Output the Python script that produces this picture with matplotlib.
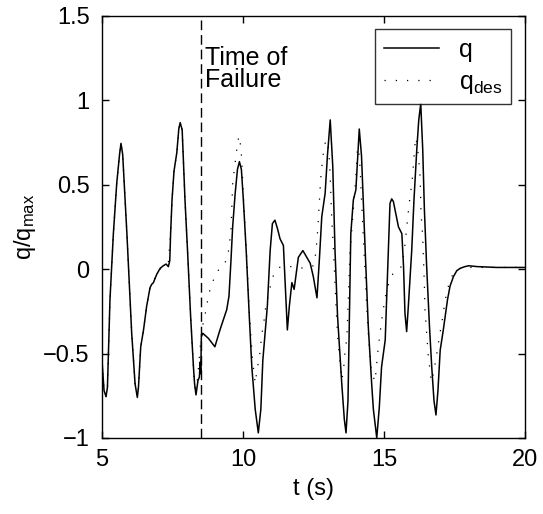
#!/usr/bin/env python3
# -*- coding: utf-8 -*-
"""
Joint position q / q_max vs time, with the time of failure marked.
"""

import matplotlib
matplotlib.use("Agg")
import matplotlib.pyplot as plt

plt.rcParams["font.family"] = ["Liberation Sans", "DejaVu Sans"]
plt.rcParams["mathtext.default"] = "regular"

# measured joint position q / q_max
t_q = [5.00, 5.07, 5.14, 5.19, 5.28, 5.40, 5.52, 5.62, 5.67, 5.73, 5.88, 6.05,
       6.17, 6.25, 6.29, 6.37, 6.47, 6.58, 6.70, 6.76, 6.82, 6.94, 7.06, 7.17,
       7.27, 7.35, 7.40, 7.43, 7.48, 7.55, 7.65, 7.72, 7.77, 7.84, 7.94, 8.03,
       8.14, 8.24, 8.28, 8.33, 8.40, 8.45, 8.48, 8.50, 8.52, 8.57, 8.77, 9.00,
       9.18, 9.42, 9.50, 9.57, 9.63, 9.72, 9.80, 9.87, 9.94, 10.01, 10.11,
       10.22, 10.31, 10.43, 10.54, 10.63, 10.70, 10.78, 10.86, 10.96, 11.04,
       11.13, 11.22, 11.31, 11.43, 11.49, 11.57, 11.64, 11.73, 11.81, 11.96,
       12.12, 12.26, 12.38, 12.49, 12.62, 12.71, 12.79, 12.91, 12.99, 13.09,
       13.18, 13.26, 13.35, 13.50, 13.59, 13.65, 13.72, 13.77, 13.82, 13.91,
       14.00, 14.06, 14.12, 14.20, 14.33, 14.44, 14.56, 14.62, 14.74, 14.83,
       14.91, 15.04, 15.09, 15.15, 15.21, 15.27, 15.33, 15.39, 15.51, 15.63,
       15.69, 15.74, 15.80, 15.86, 15.98, 16.06, 16.16, 16.23, 16.30, 16.37,
       16.43, 16.51, 16.61, 16.69, 16.77, 16.84, 16.91, 16.99, 17.10, 17.25,
       17.34, 17.46, 17.58, 17.70, 17.87, 18.00, 18.30, 19.00, 20.00]
q = [-0.55, -0.72, -0.755, -0.70, -0.18, 0.21, 0.51, 0.68, 0.745, 0.68, 0.21,
     -0.38, -0.68, -0.76, -0.70, -0.46, -0.36, -0.22, -0.11, -0.09, -0.08,
     -0.03, 0.005, 0.02, 0.03, 0.015, 0.05, 0.21, 0.41, 0.58, 0.69, 0.83,
     0.868, 0.825, 0.41, 0.11, -0.28, -0.58, -0.68, -0.745, -0.66, -0.64,
     -0.55, -0.62, -0.40, -0.38, -0.41, -0.46, -0.36, -0.24, -0.16, 0.05,
     0.25, 0.45, 0.59, 0.637, 0.59, 0.41, 0.11, -0.28, -0.58, -0.83, -0.97,
     -0.83, -0.54, -0.38, -0.22, 0.11, 0.27, 0.29, 0.24, 0.18, 0.14, -0.08,
     -0.36, -0.22, -0.08, -0.12, 0.07, 0.11, 0.07, 0.035, -0.044, -0.17,
     0.07, 0.31, 0.45, 0.67, 0.884, 0.61, 0.11, -0.28, -0.68, -0.89, -0.97,
     -0.78, -0.28, 0.21, 0.41, 0.47, 0.65, 0.83, 0.67, 0.11, -0.34, -0.68,
     -0.83, -1.0, -0.82, -0.58, -0.42, -0.18, 0.11, 0.39, 0.416, 0.40, 0.35,
     0.25, 0.21, 0.015, -0.26, -0.37, -0.22, 0.11, 0.41, 0.71, 0.884, 0.98,
     0.71, 0.35, 0.015, -0.34, -0.58, -0.78, -0.864, -0.72, -0.48, -0.36,
     -0.18, -0.10, -0.044, -0.009, 0.005, 0.015, 0.02, 0.015, 0.01, 0.01]

# desired joint position q_des / q_max
t_des = [5.00, 5.07, 5.14, 5.19, 5.28, 5.40, 5.52, 5.62, 5.67, 5.73, 5.88,
         6.05, 6.17, 6.25, 6.29, 6.37, 6.47, 6.58, 6.70, 6.82, 6.94, 7.06,
         7.17, 7.27, 7.35, 7.43, 7.48, 7.55, 7.65, 7.72, 7.77, 7.84, 7.94,
         8.03, 8.14, 8.24, 8.28, 8.33, 8.40, 8.53, 8.63, 8.71, 8.79, 8.89,
         9.04, 9.20, 9.34, 9.46, 9.51, 9.57, 9.60, 9.63, 9.68, 9.73, 9.78,
         9.85, 9.92, 9.95, 10.02, 10.12, 10.22, 10.33, 10.43, 10.49, 10.58,
         10.66, 10.74, 10.78, 10.86, 10.96, 11.07, 11.20, 11.34, 11.78, 12.16,
         12.49, 12.58, 12.65, 12.70, 12.75, 12.83, 12.91, 12.97, 13.04, 13.09,
         13.14, 13.20, 13.26, 13.32, 13.37, 13.42, 13.50, 13.56, 13.62, 13.68,
         13.73, 13.79, 13.91, 14.00, 14.05, 14.09, 14.15, 14.20, 14.27, 14.33,
         14.39, 14.44, 14.53, 14.62, 14.68, 14.76, 14.80, 14.86, 14.91, 14.97,
         15.04, 15.15, 15.31, 15.45, 15.63, 15.68, 15.74, 15.78, 15.83, 15.87,
         15.92, 15.98, 16.02, 16.05, 16.08, 16.12, 16.17, 16.22, 16.28, 16.31,
         16.37, 16.40, 16.43, 16.45, 16.51, 16.57, 16.63, 16.67, 16.75, 16.83,
         16.90, 16.96, 17.04, 17.10, 17.16, 17.25, 17.36, 17.55, 17.80, 20.00]
q_des = [-0.55, -0.72, -0.755, -0.70, -0.18, 0.21, 0.51, 0.68, 0.745, 0.68,
         0.21, -0.38, -0.68, -0.76, -0.70, -0.46, -0.36, -0.22, -0.11, -0.07,
         -0.03, 0.0, 0.02, 0.03, 0.04, 0.21, 0.41, 0.58, 0.69, 0.83, 0.868,
         0.825, 0.41, 0.11, -0.28, -0.58, -0.68, -0.745, -0.62, -0.36, -0.29,
         -0.216, -0.143, -0.09, -0.024, 0.01, 0.03, 0.078, 0.149, 0.22, 0.36,
         0.505, 0.578, 0.647, 0.716, 0.789, 0.726, 0.653, 0.40, 0.10, -0.25,
         -0.53, -0.676, -0.60, -0.52, -0.39, -0.31, -0.246, -0.177, -0.107,
         -0.04, 0.0, 0.015, 0.015, 0.005, 0.02, 0.094, 0.24, 0.39, 0.53, 0.67,
         0.746, 0.765, 0.70, 0.548, 0.31, 0.133, -0.084, -0.30, -0.44, -0.52,
         -0.656, -0.60, -0.48, -0.41, -0.18, 0.094, 0.35, 0.548, 0.70, 0.72,
         0.60, 0.41, 0.173, -0.024, -0.24, -0.38, -0.58, -0.64, -0.666, -0.52,
         -0.45, -0.38, -0.305, -0.24, -0.167, -0.094, -0.028, 0.0, 0.015,
         0.074, 0.144, 0.21, 0.286, 0.357, 0.43, 0.50, 0.57, 0.637, 0.71, 0.78,
         0.74, 0.666, 0.54, 0.33, 0.19, 0.044, -0.10, -0.24, -0.38, -0.52,
         -0.60, -0.666, -0.62, -0.54, -0.47, -0.40, -0.325, -0.26, -0.19,
         -0.12, -0.054, -0.005, 0.01, 0.01]

t_failure = 8.5
x_ticks = [5, 10, 15, 20]
y_ticks = [-1, -0.5, 0, 0.5, 1, 1.5]


fig = plt.figure(figsize=(5.43, 5.14), dpi=100)
ax = fig.add_axes([0.188, 0.148, 0.779, 0.821])

ax.plot(t_q, q, color="black", linewidth=1.1, label="q")
ax.plot(t_des, q_des, color="black", linewidth=0.9,
        linestyle=(0, (1, 8)), label=r"q$_{des}$")
ax.axvline(t_failure, color="black", linewidth=1.0, linestyle=(0, (7, 3.5)))
ax.text(8.66, 1.32, "Time of\nFailure", fontsize=18, ha="left", va="top",
        linespacing=0.9)

ax.set_xlim(5, 20)
ax.set_ylim(-1, 1.5)
ax.set_xticks(x_ticks)
ax.set_yticks(y_ticks)
ax.set_xticklabels([str(v) for v in x_ticks])
ax.set_yticklabels(["\u22121", "\u22120.5", "0", "0.5", "1", "1.5"])
ax.tick_params(direction="in", length=5, width=1.0, top=True, right=True,
               labelsize=17)
ax.tick_params(axis="y", pad=9)
ax.tick_params(axis="x", pad=8)
for sp in ax.spines.values():
    sp.set_linewidth(1.0)

ax.set_xlabel("t (s)", fontsize=17, labelpad=5)
ax.set_ylabel(r"q/q$_{max}$", fontsize=17, labelpad=4)

leg = ax.legend(loc="upper right", bbox_to_anchor=(0.967, 0.968),
                fontsize=18, frameon=True, fancybox=False, handlelength=2.2,
                handletextpad=0.8, borderpad=0.35, labelspacing=0.3,
                borderaxespad=0.0)
leg.get_frame().set_edgecolor("black")
leg.get_frame().set_linewidth(1.0)

fig.savefig("out.png", dpi=100)
